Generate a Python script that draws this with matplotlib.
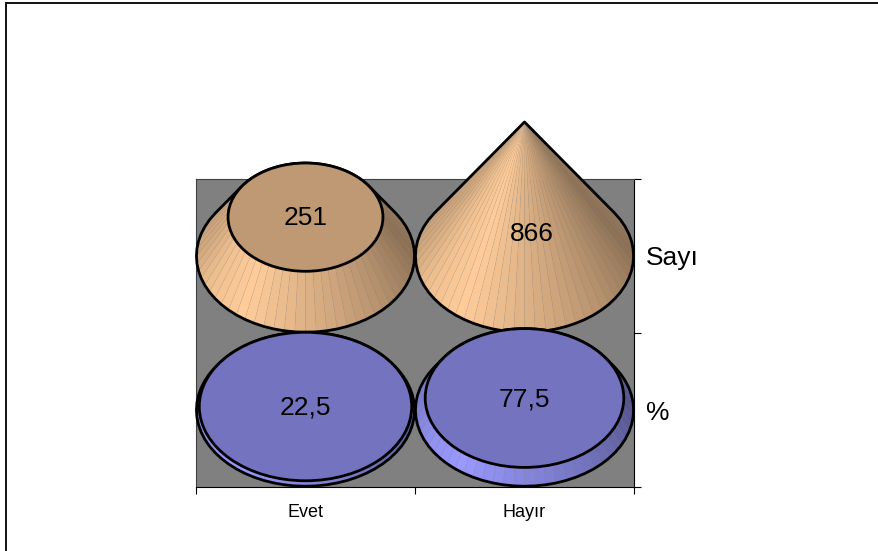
import numpy as np
import matplotlib
matplotlib.use('Agg')
import matplotlib.pyplot as plt
from matplotlib.lines import Line2D
from matplotlib.patches import Ellipse, Polygon

categories = ['Evet', 'Hayır']
rows = ['%', 'Sayı']
sayi = [251, 866]
yuzde = [22.5, 77.5]
sayi_labels = ['251', '866']
yuzde_labels = ['22,5', '77,5']

CONE_MAX = 866.0     # value where the cone closes to a point
UNITS_PER_ROW = 995.0
RX = 0.498
RY = 0.495
N_FACETS = 64

ORANGE = np.array([255, 204, 153]) / 255
BLUE = np.array([153, 153, 255]) / 255
TOP_SHADE = 0.75

plt.rcParams['font.family'] = ['Liberation Sans', 'DejaVu Sans']


def shade(angle):
    # angle 0 = right edge, 90 = front, 180 = left edge
    a = np.degrees(angle) % 360
    return np.interp(a, [0, 30, 60, 90, 125, 150, 180, 270, 360],
                     [0.55, 0.66, 0.77, 0.87, 1.0, 0.95, 0.82, 0.7, 0.55])


def hull(points):
    pts = sorted(set(map(tuple, np.round(points, 6))))
    def half(seq):
        out = []
        for p in seq:
            while len(out) > 1 and ((out[-1][0] - out[-2][0]) * (p[1] - out[-2][1])
                                    - (out[-1][1] - out[-2][1]) * (p[0] - out[-2][0])) <= 0:
                out.pop()
            out.append(p)
        return out[:-1]
    return np.array(half(pts) + half(pts[::-1]))


def cone(ax, cx, cy, value, color):
    rise = value / UNITS_PER_ROW
    k = 1 - value / CONE_MAX
    th = np.linspace(0, 2 * np.pi, N_FACETS + 1)
    bx, by = cx + RX * np.cos(th), cy - RY * np.sin(th)
    tx, ty = cx + RX * k * np.cos(th), cy + rise - RY * k * np.sin(th)
    # back facets first, front ones over them
    order = np.argsort(np.sin(th[:-1] + np.pi / N_FACETS))
    for i in order:
        c = np.clip(color * shade(th[i] + np.pi / N_FACETS), 0, 1)
        ax.add_patch(Polygon([(bx[i], by[i]), (bx[i + 1], by[i + 1]),
                              (tx[i + 1], ty[i + 1]), (tx[i], ty[i])],
                             facecolor=c, edgecolor=(0.55, 0.55, 0.55, 0.12),
                             linewidth=0.4, clip_on=False, zorder=3))
    outline = hull(np.r_[np.c_[bx, by], np.c_[tx, ty]])
    ax.add_patch(Polygon(outline, closed=True, fill=False, edgecolor='black',
                         linewidth=2.0, joinstyle='round', clip_on=False, zorder=4))
    if k > 0:
        ax.add_patch(Ellipse((cx, cy + rise), 2 * RX * k, 2 * RY * k,
                             facecolor=color * TOP_SHADE, edgecolor='black',
                             linewidth=2.0, clip_on=False, zorder=5))


fig = plt.figure(figsize=(8.79, 5.51), dpi=100)
# chart frame: only the top and left edges show in the crop
fig.add_artist(Line2D([6 / 879, 6 / 879, 1], [0, 1 - 3 / 551, 1 - 3 / 551],
                      transform=fig.transFigure, color='#111111', linewidth=1.4,
                      solid_joinstyle='miter'))

ax = fig.add_axes([196 / 879, (551 - 487) / 551, 438 / 879, 308 / 551])
ax.set_xlim(0, 2)
ax.set_ylim(0, 2)
ax.set_facecolor('#808080')

ax.spines['top'].set_color('#404040')
ax.spines['left'].set_color('#404040')
for s in ax.spines.values():
    s.set_linewidth(0.8)

ax.yaxis.tick_right()
ax.set_xticks([0, 1, 2])
ax.set_yticks([0, 1, 2])
ax.set_xticklabels([])
ax.set_yticklabels([])
ax.tick_params(axis='both', which='major', length=5, width=0.8)

xc = np.arange(len(categories)) + 0.5
yc = np.arange(len(rows)) + 0.5
ax.set_xticks(xc, minor=True)
ax.set_xticklabels(categories, minor=True, fontsize=13)
ax.set_yticks(yc, minor=True)
ax.set_yticklabels(rows, minor=True, fontsize=19)
ax.tick_params(axis='x', which='minor', length=0, pad=12)
ax.tick_params(axis='y', which='minor', length=0, pad=8.5)

for i in range(len(categories)):
    cone(ax, xc[i], yc[0], yuzde[i], BLUE)
    cone(ax, xc[i], yc[1], sayi[i], ORANGE)

# data labels, moved by hand in the original chart
tk = dict(ha='center', va='center', fontsize=19, zorder=6, annotation_clip=False)
ax.annotate(yuzde_labels[0], (xc[0], yc[0]), xytext=(0, 1.5), textcoords='offset points', **tk)
ax.annotate(yuzde_labels[1], (xc[1], yc[0]), xytext=(0, 7.5), textcoords='offset points', **tk)
ax.annotate(sayi_labels[0], (xc[0], yc[1] + sayi[0] / UNITS_PER_ROW), textcoords='offset points', xytext=(0, -0.5), **tk)
ax.annotate(sayi_labels[1], (xc[1], yc[1]), xytext=(5, 15.5), textcoords='offset points', **tk)

fig.savefig('out.png', dpi=100)
